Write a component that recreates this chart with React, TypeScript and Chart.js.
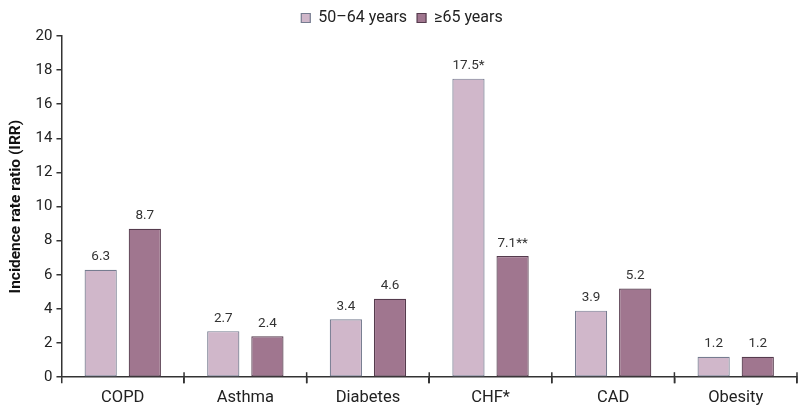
import React, { useEffect, useRef } from "react";
import { Chart, registerables } from "chart.js";

Chart.register(...registerables);

const categories = ["COPD", "Asthma", "Diabetes", "CHF*", "CAD", "Obesity"];
const seriesNames = ["50\u201364 years", "\u226565 years"];
const values5064 = [6.3, 2.7, 3.4, 17.5, 3.9, 1.2];
const values65 = [8.7, 2.4, 4.6, 7.1, 5.2, 1.2];
const labels5064 = ["6.3", "2.7", "3.4", "17.5*", "3.9", "1.2"];
const labels65 = ["8.7", "2.4", "4.6", "7.1**", "5.2", "1.2"];
const yTicks = [0, 2, 4, 6, 8, 10, 12, 14, 16, 18, 20];

const FONT = "Roboto, 'DejaVu Sans', sans-serif";

const valueLabelPlugin = {
  id: "valueLabels",
  afterDatasetsDraw(chart: any) {
    const ctx = chart.ctx;
    const lbls = [labels5064, labels65];
    ctx.save();
    ctx.font = `13.5px ${FONT}`;
    ctx.fillStyle = "#333";
    ctx.textAlign = "center";
    ctx.textBaseline = "bottom";
    chart.data.datasets.forEach((ds: any, di: number) => {
      const meta = chart.getDatasetMeta(di);
      meta.data.forEach((bar: any, i: number) => {
        ctx.fillText(lbls[di][i], bar.x, bar.y - 6);
      });
    });
    ctx.restore();
  },
};

const crossTickPlugin = {
  id: "crossTicks",
  afterDraw(chart: any) {
    const ctx = chart.ctx;
    const x = chart.scales.x;
    const y0 = chart.scales.y.getPixelForValue(0);
    const n = categories.length;
    ctx.save();
    ctx.strokeStyle = "#333";
    ctx.lineWidth = 1.5;
    for (let i = 1; i <= n; i++) {
      const px = x.left + ((x.right - x.left) * i) / n;
      ctx.beginPath();
      ctx.moveTo(px, y0 - 5);
      ctx.lineTo(px, y0 + 6);
      ctx.stroke();
    }
    ctx.restore();
  },
};

export default function App() {
  const ref = useRef<HTMLCanvasElement>(null);
  useEffect(() => {
    if (!ref.current) return;
    const chart = new Chart(ref.current, {
      type: "bar",
      data: {
        labels: categories,
        datasets: [
          {
            label: seriesNames[0],
            data: values5064,
            backgroundColor: "#d0b7ca",
            borderColor: "#767c90",
            borderWidth: 1.2,
            borderSkipped: false,
            categoryPercentage: 0.72,
            barPercentage: 0.73,
          },
          {
            label: seriesNames[1],
            data: values65,
            backgroundColor: "#a0768f",
            borderColor: "#553b4d",
            borderWidth: 1.2,
            borderSkipped: false,
            categoryPercentage: 0.72,
            barPercentage: 0.73,
          },
        ],
      },
      options: {
        animation: false,
        responsive: false,
        layout: { padding: { left: 7, right: 3, top: 0, bottom: -3 } },
        plugins: {
          legend: {
            position: "top",
            labels: {
              boxWidth: 9,
              boxHeight: 9,
              color: "#222",
              font: { family: FONT, size: 16 },
              padding: 10,
            },
          },
          tooltip: { enabled: false },
        },
        scales: {
          x: {
            grid: {
              offset: true,
              drawOnChartArea: false,
              drawTicks: true,
              tickLength: 6,
              color: "#333",
              lineWidth: 1.5,
            },
            border: { color: "#333", width: 1.5 },
            ticks: {
              color: "#222",
              font: { family: FONT, size: 16.5 },
              padding: 5,
            },
          },
          y: {
            min: 0,
            max: 20,
            afterBuildTicks: (axis: any) => {
              axis.ticks = yTicks.map((v) => ({ value: v }));
            },
            grid: {
              drawOnChartArea: false,
              drawTicks: true,
              tickLength: 5,
              color: "#333",
              lineWidth: 1.5,
            },
            border: { color: "#333", width: 1.5 },
            ticks: {
              color: "#222",
              font: { family: FONT, size: 15 },
              padding: 4,
            },
            title: {
              display: true,
              text: "Incidence rate ratio (IRR)",
              color: "#111",
              font: { family: FONT, size: 15.5, weight: "bold" },
              padding: { top: 0, bottom: 6 },
            },
          },
        },
      },
      plugins: [valueLabelPlugin, crossTickPlugin],
    });
    return () => chart.destroy();
  }, []);
  return (
    <div style={{ position: "absolute", left: 0, top: 0, width: 800, height: 410 }}>
      <canvas ref={ref} width={800} height={410} />
    </div>
  );
}
